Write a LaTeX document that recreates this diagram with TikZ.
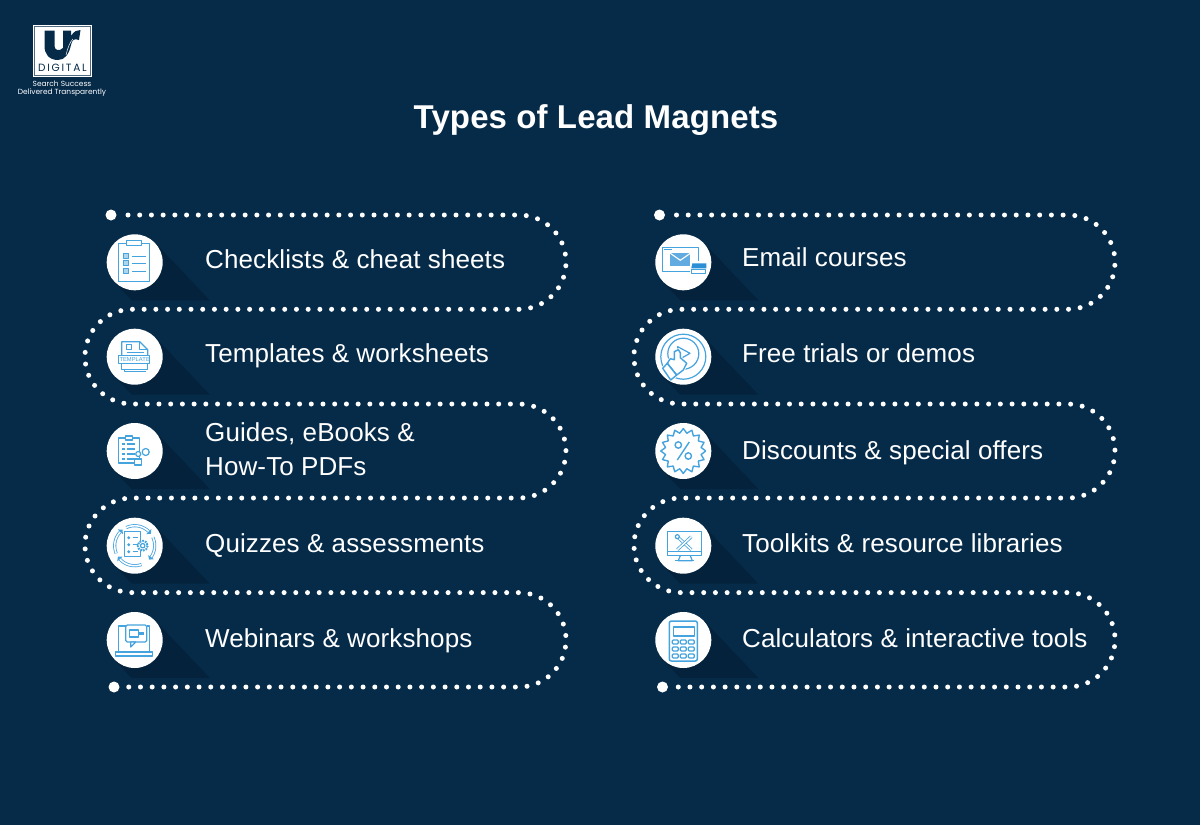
\documentclass[tikz,border=0pt]{standalone}
\usepackage{fontspec}
\setmainfont[LetterSpace=0.4]{Liberation Sans}
\newfontfamily\logofont{Poppins}
\definecolor{navy}{HTML}{062B49}
\definecolor{navydark}{HTML}{04223B}
\definecolor{iconblue}{HTML}{45A3DE}
\definecolor{iconfill}{HTML}{2C8FD6}
\tikzset{
    dotline/.style={white, line width=5pt, line cap=round, dash pattern=on 0pt off 11.715pt, rounded corners=47pt},
    enddot/.style={circle, fill=white, minimum size=11pt, inner sep=0pt},
    iconcircle/.style={circle, fill=white, minimum size=56pt, inner sep=0pt},
    itemtext/.style={white, anchor=base west, align=left, inner sep=0pt, font=\fontsize{26}{33.5}\selectfont},
    ln/.style={iconblue, line width=1.2pt, line join=round},
    band/.style={iconblue, line width=.8pt, double=white, double distance=1.5pt},
    longshadow/.pic={\fill[navydark] (20,-20) -- (75,38) -- (-3,38) -- (-22,18) -- cycle;},
    checkicon/.pic={
        \draw[ln] (-16,-19) rectangle (15,19);
        \draw[ln, fill=white] (-8,-22) rectangle (7,-17);
        \foreach \yy in {-9,-2,6} {
            \draw[ln, fill=iconblue!45] (-11,\yy) rectangle +(5,5);
            \draw[ln] (-3,\yy+3) -- (11,\yy+3);
        }
    },
    templateicon/.pic={
        \draw[ln] (-13,-1) -- (-13,-15) -- (5,-15) -- (13,-7) -- (13,-1);
        \draw[ln] (5,-15) -- (5,-7) -- (13,-7);
        \draw[ln] (-8,-12) rectangle (-3,-7);
        \draw[ln] (-8,-4) -- (9,-4);
        \draw[ln] (-16,-1) rectangle (15,7);
        \node[inner sep=0pt] (templatetxt) at (0,3) {\fontsize{5.8}{7}\selectfont\color{iconblue}TEMPLATE};
        \draw[ln] (-13,7) -- (-13,13) -- (13,13) -- (13,7);
        \draw[ln] (-10,13) -- (-10,15) -- (11,15);
    },
    guideicon/.pic={
        \draw[ln] (-16,-13) rectangle (5,12);
        \draw[ln, fill=white] (-9,-15) rectangle (-2,-11);
        \foreach \yy in {-7,-2,3,8} {
            \draw[ln] (-13,\yy) -- (-10,\yy);
            \draw[ln] (-8,\yy) -- (0,\yy);
        }
        \draw[ln, fill=white] (3.5,3) circle (2.5);
        \draw[ln, fill=white] (0,14) -- (0,8) -- (7,8) -- (7,14) -- cycle;
        \draw[ln] (11,1) circle (3.5);
    },
    quizicon/.pic={
        \foreach \aa/\bb in {-115/-45, -25/35, 70/138, 157/224} {
            \draw[band] plot[domain=\aa:\bb, samples=12] (\x:20);
            \fill[iconblue] (\bb+9:20) -- (\bb:23.5) -- (\bb:16.5) -- cycle;
        }
        \draw[ln] (-10,-14) rectangle (6,11);
        \foreach \yy in {-8,-1,6} {
            \fill[iconblue] (-6,\yy) circle (1.6);
            \draw[ln] (-2,\yy) -- (3,\yy);
        }
        \draw[ln, fill=white, dash pattern=on 1.8pt off 1pt, line width=2pt] (8,0) circle (5);
        \draw[ln] (8,0) circle (2.2);
    },
    webinaricon/.pic={
        \draw[ln] (-16,12) -- (-16,-14) -- (-9,-14);
        \draw[ln] (12,-14) -- (15,-14) -- (15,12);
        \draw[ln] (-19,12) rectangle (18,16);
        \draw[ln, rounded corners=1.5pt, fill=white] (-9,-15) rectangle (12,2);
        \draw[ln, fill=white] (-4,2) -- (-4,7) -- (1,2) -- cycle;
        \draw[ln] (-5,-10) rectangle (4,-3);
        \fill[iconblue] (4,-8) rectangle (9,-5);
    },
    emailicon/.pic={
        \draw[ln] (-21,-15) rectangle (15,9);
        \draw[iconblue, line width=.7pt] (-19,-12.5) -- (-11,-12.5);
        \fill[iconfill!75] (-13,-9) rectangle (7,4);
        \draw[white, line width=1.1pt] (-13,-9) -- (-3,-2) -- (7,-9);
        \fill[white] (7,-1) rectangle (24,12);
        \fill[iconfill] (9,1) -- (23,1) -- (23,6) -- (8,6) -- cycle;
        \draw[ln] (8,7) rectangle (22,11);
    },
    trialicon/.pic={
        \draw[ln] (0,0) circle (22.5);
        \draw[ln] (0,-3) circle (15.5);
        \draw[ln] (-5.6,-10) -- (6.7,-3.4) -- (-5,3.3) -- cycle;
        \draw[white, line width=3pt, line join=round, fill=white] (-16,6.6) -- (-13,2) -- (-9,3) -- (-9,-5) -- (-5,-7) -- (-3,-4) -- (-3,1) -- (3.4,6.6) -- (0,13.3) -- (-6.6,18.3) -- (-12.6,23.3) -- (-20.6,11.6) -- cycle;
        \draw[ln, line width=1.4pt] (-16,6.6) -- (-13,2) -- (-9,3) -- (-9,-5) -- (-5,-7) -- (-3,-4) -- (-3,1) -- (3.4,6.6) -- (0,13.3) -- (-6.6,18.3) -- cycle;
        \draw[ln, line width=1.4pt] (-20.6,11.6) -- (-16,6.6) -- (-6.6,18.3) -- (-12.6,23.3) -- cycle;
    },
    discounticon/.pic={
        \draw[ln, line width=1.4pt] plot[samples=33, domain=0:32] (\x*11.25:{20.3+2.2*cos(\x*180)});
        \draw[ln, line width=1.4pt] (6,-9) -- (-6,9);
        \draw[ln, line width=1.4pt] (-5,-6) circle (3.2);
        \draw[ln, line width=1.4pt] (5,5) circle (3.2);
    },
    toolicon/.pic={
        \draw[ln] (-16,-14) rectangle (18,10);
        \draw[ln] (-16,6) -- (18,6);
        \draw[ln] (-3,10) -- (-5,15) -- (9,15) -- (7,10);
        \draw[ln] (-8,15) -- (11,15);
        \draw[band] (-6,-9) -- (8,4);
        \draw[band] (8,-9) -- (-6,4);
        \draw[ln, fill=white] (-6,-9) circle (2);
    },
    calcicon/.pic={
        \draw[ln, line width=1.5pt, rounded corners=2pt] (-14,-19) rectangle (14,21);
        \draw[ln] (-10,-13) rectangle (11,-4);
        \foreach \xx in {-11,-3,5} \foreach \yy in {0,7,14}
            \draw[ln, rounded corners=1pt] (\xx,\yy) rectangle +(6,4);
    }
}
\begin{document}
\begin{tikzpicture}[x=1pt,y=-1pt]
    \fill[navy] (0,0) rectangle (1200,825);
    \useasboundingbox (0,0) rectangle (1200,825);

    % logo
    \fill[white] (33,25) rectangle (92,77);
    \draw[navy!70, line width=0.5pt] (34.5,26.5) rectangle (90.5,75.5);
    \fill[navy] (44.5,30.5) -- (54.5,30.5) -- (54.5,46) .. controls (54.5,50) and (59,52) .. (63,48) -- (63,30.5) -- (71,30.5) -- (71,36) .. controls (74,31) and (77,30) .. (80.5,30) -- (79,40) .. controls (74,38) and (72,40) .. (71,45) .. controls (69,54) and (65,60) .. (58,60) .. controls (49,60) and (44.5,54) .. (44.5,46) -- cycle;
    \draw[white, line width=0.5pt] (73,39) .. controls (70,42) and (68,47) .. (66,55);
    \node[text=navy, inner sep=0pt] (logoname) at (62.5,67.5) {\logofont\fontsize{10.5}{11}\selectfont D\,I\,G\,I\,T\,A\,L};
    \node[text=white, inner sep=0pt] (logoline1) at (62,83.5) {\logofont\fontsize{7.45}{8}\selectfont Search Success};
    \node[text=white, inner sep=0pt] (logoline2) at (62,92.5) {\logofont\fontsize{7.45}{8}\selectfont Delivered Transparently};

    % title
    \node[white, font=\fontsize{33}{38}\selectfont\bfseries, inner sep=0pt, anchor=base] (title) at (596,128) {Types of Lead Magnets};

    % left and right dotted tracks
    \node[enddot] (startL) at (111,215) {};
    \node[enddot] (endL) at (114,687) {};
    \node[enddot] (startR) at (659.5,215) {};
    \node[enddot] (endR) at (662.5,687) {};
    \draw[dotline] (startL.center) ++(17,0) -- (566,215) -- (566,309.3) -- (85,309.3) -- (85,404) -- (566,404) -- (566,498) -- (85,498) -- (85,592.6) -- (566,592.6) -- (566,687) -- ([xshift=11pt]endL.center);
    \draw[dotline] (startR.center) ++(17,0) -- (1115,215) -- (1115,309.3) -- (634,309.3) -- (634,404) -- (1115,404) -- (1115,498) -- (634,498) -- (634,592.6) -- (1115,592.6) -- (1115,687) -- ([xshift=11pt]endR.center);

    % items
    \foreach \nm/\cx/\cy/\ico/\tx/\ty/\lab in {
        check/134.7/262.3/checkicon/205/268/{Checklists \& cheat sheets},
        templ/134.7/356.7/templateicon/205/362.5/{Templates \& worksheets},
        guide/134.7/451/guideicon/205/475/{Guides, eBooks \&\\How-To PDFs},
        quiz/134.7/545.7/quizicon/205/552.3/{Quizzes \& assessments},
        webin/134.7/640/webinaricon/205/647.5/{Webinars \& workshops},
        email/683.3/262.3/emailicon/742/266/{Email courses},
        trial/683.3/356.7/trialicon/742/362.3/{Free trials or demos},
        disc/683.3/451/discounticon/742/459.3/{Discounts \& special offers},
        tool/683.3/545.7/toolicon/742/552.5/{Toolkits \& resource libraries},
        calc/683.3/640/calcicon/742/647.7/{Calculators \& interactive tools}} {
        \pic at (\cx,\cy) {longshadow};
        \node[iconcircle] (\nm) at (\cx,\cy) {};
        \pic at (\cx,\cy) {\ico};
        \node[itemtext] (\nm txt) at (\tx,\ty) {\lab};
    }
\end{tikzpicture}
\end{document}
